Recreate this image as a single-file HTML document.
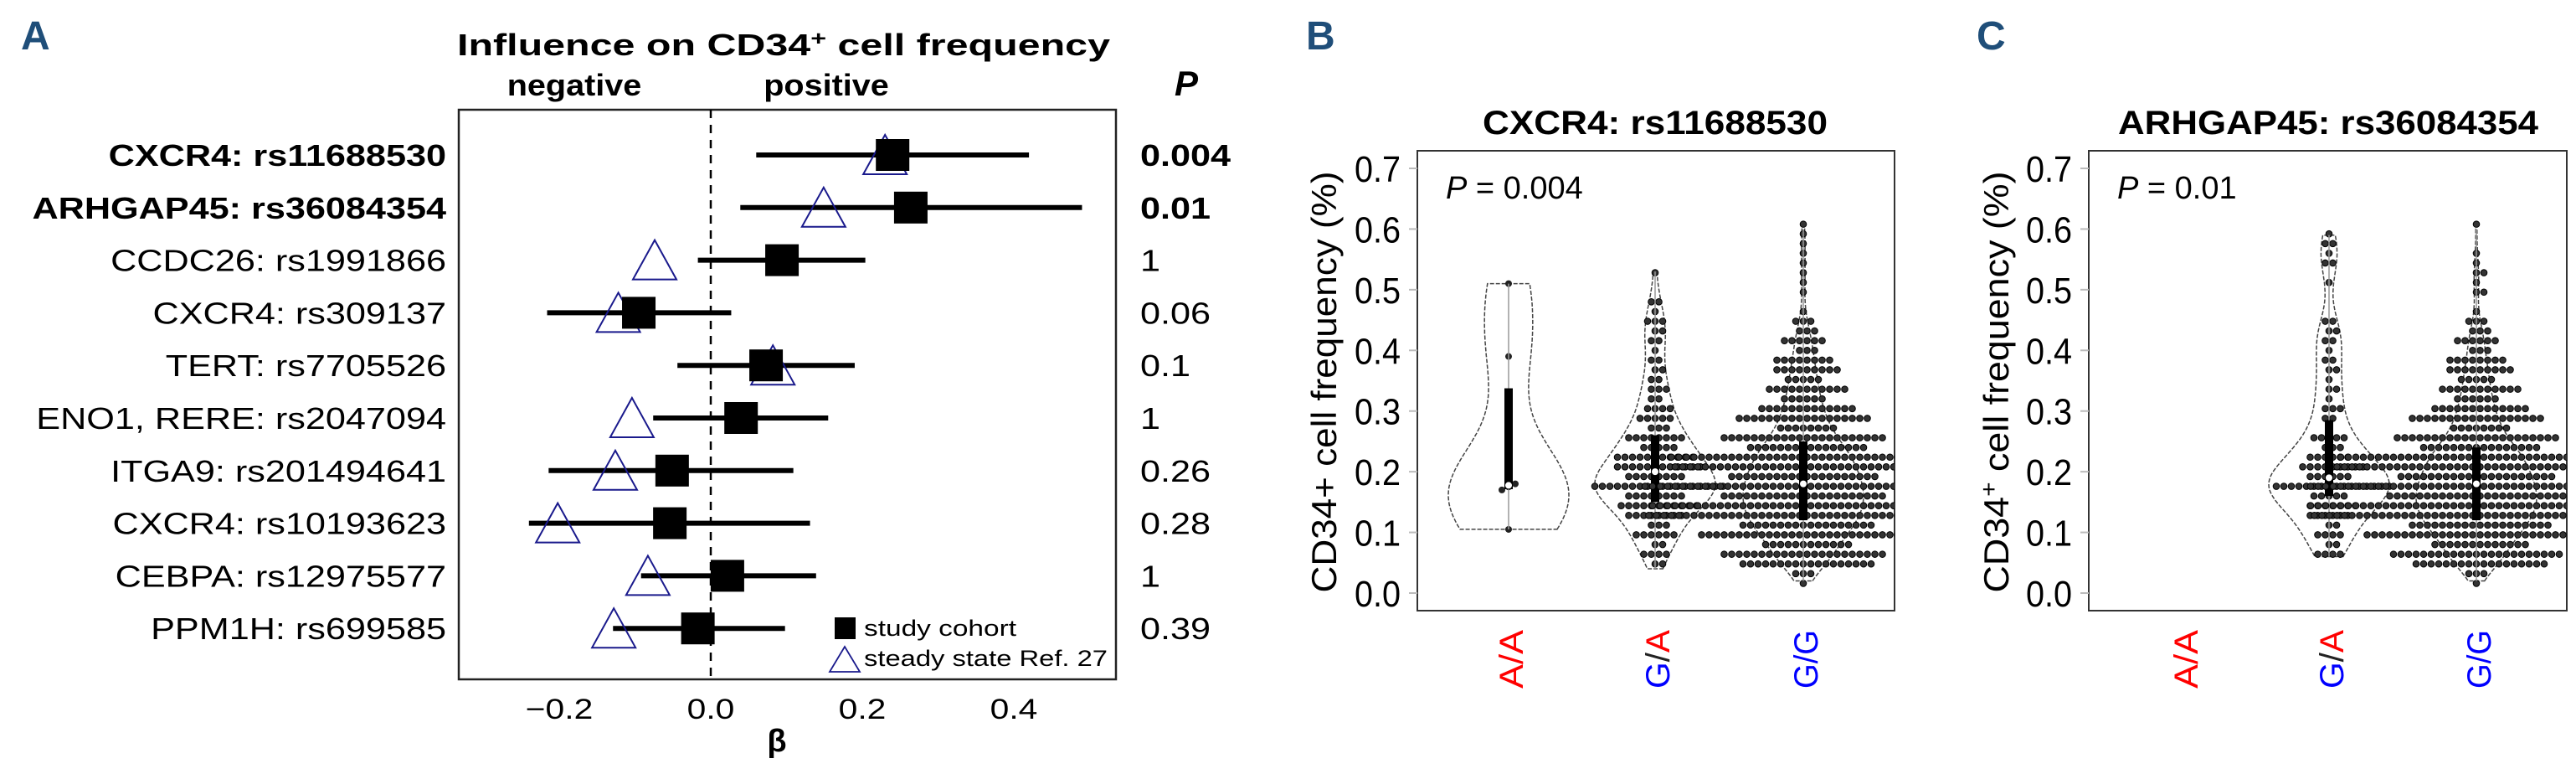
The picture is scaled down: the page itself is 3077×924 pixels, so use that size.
<!DOCTYPE html>
<html><head><meta charset="utf-8"><title>CD34+ figure</title>
<style>
html,body{margin:0;padding:0;background:#fff;}
svg{display:block;font-family:"Liberation Sans",Arial,sans-serif;}
</style></head>
<body>
<svg id="fig" xmlns="http://www.w3.org/2000/svg" width="3077" height="924" viewBox="0 0 3077 924">
<rect width="3077" height="924" fill="#fff"/>
<defs>
<clipPath id="clipB"><rect x="1693" y="180" width="570" height="549"/></clipPath>
<clipPath id="clipC"><rect x="2495" y="180" width="571" height="549"/></clipPath>
</defs>
<g id="panelA"></g>
<g id="panelB"></g>
<g id="panelC"></g>
</svg>
<script>
// ---------- Panel A data ----------
const snpLabels = ["CXCR4: rs11688530","ARHGAP45: rs36084354","CCDC26: rs1991866","CXCR4: rs309137","TERT: rs7705526","ENO1, RERE: rs2047094","ITGA9: rs201494641","CXCR4: rs10193623","CEBPA: rs12975577","PPM1H: rs699585"];
const betaCohort = [0.240,0.264,0.094,-0.095,0.073,0.040,-0.051,-0.054,0.022,-0.017];
const ciLow = [0.060,0.039,-0.017,-0.216,-0.044,-0.076,-0.214,-0.240,-0.092,-0.129];
const ciHigh = [0.420,0.490,0.204,0.027,0.190,0.155,0.109,0.131,0.139,0.098];
const betaRef = [0.230,0.149,-0.074,-0.122,0.082,-0.104,-0.126,-0.202,-0.083,-0.128];
const pLabels = ["0.004","0.01","1","0.06","0.1","1","0.26","0.28","1","0.39"];
const xTicksA = [-0.2,0.0,0.2,0.4];
const xTickLabelsA = ["\u22120.2","0.0","0.2","0.4"];

// ---------- Panels B/C data ----------
const yTicksBC = [0,0.1,0.2,0.3,0.4,0.5,0.6,0.7];
const genotypes = ["A/A","G/A","G/G"];
const bAAValues = [0.105,0.17,0.175,0.18,0.39,0.51];
const bGAStart = 0.04;
const bGACounts = [1,1,2,2,2,3,3,3,4,4,5,6,8,8,10,8,6,6,6,5,5,4,4,3,3,2,2,2,2,2,1,2,1,1,1,1,1,1,1,2,2,1,0,1,2,0,0,0,0,1];
const bGGStart = 0.02;
const bGGCounts = [1,3,8,10,10,12,12,12,16,18,22,20,20,22,22,22,22,20,18,18,18,18,16,12,10,8,10,8,7,6,6,6,5,5,5,4,4,4,3,3,3,3,2,1,0,1,0,0,1,1,0,1,1,0,1,0,1,1,1];
const cGAStart = 0.06;
const cGACounts = [2,2,2,2,2,2,3,3,3,4,5,8,8,6,5,4,3,3,3,3,2,1,1,1,1,2,1,1,1,1,1,1,1,1,1,1,1,2,2,0,0,0,0,0,0,1,0,0,1,1,1,1,1,1];
const cGGStart = 0.02;
const cGGCounts = [1,3,8,10,11,12,13,13,17,19,22,22,22,24,24,24,22,21,20,19,19,18,16,12,10,8,10,8,7,6,6,6,5,5,5,4,4,4,3,3,3,3,2,1,0,1,0,1,1,1,1,1,1,0,1,0,0,0,1];

const NS = "http://www.w3.org/2000/svg";
function mk(tag, attrs, parent){
  const e = document.createElementNS(NS, tag);
  for (const k in attrs) e.setAttribute(k, attrs[k]);
  parent.appendChild(e);
  return e;
}
function txt(parent, x, y, str, size, opts){
  opts = opts || {};
  const sx = opts.sx || 1;
  const t = mk("text", {transform:"translate("+x+","+y+") scale("+sx+",1)", "font-size":size,
    "text-anchor":opts.anchor||"start", fill:opts.fill||"#000", "font-weight":opts.bold?"bold":"normal",
    "font-style":opts.italic?"italic":"normal"}, parent);
  if (opts.len){ t.setAttribute("textLength", opts.len); t.setAttribute("lengthAdjust","spacingAndGlyphs"); }
  t.textContent = str;
  return t;
}

// ================= Panel A =================
const A = document.getElementById("panelA");
const xA = v => 849 + v*905;
const rowY = i => 185 + i*62.8;
const boxA = {l:548, r:1333, t:131, b:811};

let lt = txt(A, 25, 59, "A", 48, {bold:true, fill:"#1f4e79"});



let tt = mk("text",{x:546,y:66,"font-size":36,"font-weight":"bold",textLength:780,lengthAdjust:"spacingAndGlyphs"},A);
tt.innerHTML = 'Influence on CD34<tspan dy="-12" font-size="24">+</tspan><tspan dy="12">  cell frequency</tspan>';


let ng = txt(A, 686, 114, "negative", 36, {bold:true, anchor:"middle", sx:1.1});


let ps = txt(A, 987, 114, "positive", 36, {bold:true, anchor:"middle", sx:1.1});


let ph = txt(A, 1417, 114, "P", 42, {bold:true, italic:true, anchor:"middle"});



let frA = mk("rect",{x:boxA.l,y:boxA.t,width:boxA.r-boxA.l,height:boxA.b-boxA.t,fill:"none",stroke:"#222","stroke-width":2.5},A);


let zl = mk("line",{x1:xA(0),x2:xA(0),y1:boxA.t,y2:boxA.b,stroke:"#000","stroke-width":2.5,"stroke-dasharray":"10,8"},A);



xTicksA.forEach((v,i)=>{
  const t = txt(A, xA(v), 858, xTickLabelsA[i], 34, {anchor:"middle", sx:1.2});
  
  
});
let beta = txt(A, 928, 897, "\u03b2", 38, {anchor:"middle", bold:true});



snpLabels.forEach((lab,i)=>{
  const y = rowY(i);
  const t = txt(A, 533, y+13, lab, 36, {anchor:"end", bold:i<2, sx:1.2});
  
  
  const ci = mk("line",{x1:xA(ciLow[i]),x2:xA(ciHigh[i]),y1:y,y2:y,stroke:"#000","stroke-width":6},A);
  
  
  const tx = xA(betaRef[i]);
  const tri = mk("polygon",{points:(tx-26)+","+(y+23)+" "+(tx+26)+","+(y+23)+" "+tx+","+(y-24),fill:"none",stroke:"#1a1a8c","stroke-width":2},A);
  
  
  const sq = mk("rect",{x:xA(betaCohort[i])-20,y:y-19,width:40,height:38,fill:"#000"},A);
  
  
  const p = txt(A, 1362, y+13, pLabels[i], 36, {bold:i<2, sx:1.2});
  
  
});

let lg = mk("g",{},A);


let ls = mk("rect",{x:997,y:737,width:25,height:26,fill:"#000"},lg);


let lt1 = txt(lg, 1032, 759, "study cohort", 27, {len:182});


let ltr = mk("polygon",{points:"991,802 1027,802 1009,772",fill:"none",stroke:"#1a1a8c","stroke-width":1.8},lg);


let lt2 = txt(lg, 1032, 795, "steady state Ref. 27", 27, {len:291});



// ================= Panels B/C =================
const yBC = v => 708 - v*724.3;
function expand(start, counts){
  const out=[]; counts.forEach((c,i)=>{ for(let k=0;k<c;k++) out.push(+(start+i*0.01).toFixed(3)); }); return out;
}
function quant(s, q){ const h=(s.length-1)*q, lo=Math.floor(h), hi=Math.ceil(h); return s[lo]+(s[hi]-s[lo])*(h-lo); }
function drawGroup(g, cx, vals, swarm, clip){
  if (!vals.length) return;
  const s = vals.slice().sort((a,b)=>a-b);
  const n = s.length, mean = s.reduce((a,b)=>a+b,0)/n;
  const sd = Math.sqrt(s.reduce((a,b)=>a+(b-mean)**2,0)/(n-1));
  const iqr = quant(s,0.75)-quant(s,0.25);
  const bw = 0.9*Math.min(sd, iqr/1.34 || sd)*Math.pow(n,-0.2);
  const mn=s[0], mx=s[n-1], steps=120, dens=[];
  for(let k=0;k<=steps;k++){ const v=mn+(mx-mn)*k/steps; let d=0; s.forEach(x=>{d+=Math.exp(-0.5*((v-x)/bw)**2);}); dens.push([v,d]); }
  const dmax = Math.max(...dens.map(d=>d[1]));
  let path = "";
  dens.forEach((d,k)=>{ path += (k?"L":"M")+(cx+72*d[1]/dmax).toFixed(1)+","+yBC(d[0]).toFixed(1); });
  for(let k=dens.length-1;k>=0;k--){ path += "L"+(cx-72*dens[k][1]/dmax).toFixed(1)+","+yBC(dens[k][0]).toFixed(1); }
  const vio = mk("path",{d:path+"Z",fill:"none",stroke:"#444","stroke-width":1.5,"stroke-dasharray":"5,2"},g);
  
  
  const dg = mk("g",{"clip-path":"url(#"+clip+")"},g);
  
  
  if (swarm){
    const rowH = 0.016;
    const rows = {};
    s.forEach(v=>{ const r=Math.round(v/rowH); (rows[r]=rows[r]||[]).push(v); });
    Object.keys(rows).forEach(key=>{
      const list=rows[key], c=list.length, shift=(+key%2)?4.5:0;
      list.forEach((v,k)=>{
        const dot = mk("circle",{cx:cx+(k-(c-1)/2)*9+(c>1?shift:0),cy:yBC(+key*rowH),r:3.8,fill:"#333",stroke:"#000","stroke-width":1},dg);
        
        
      });
    });
  } else {
    s.forEach((v,k)=>{
      const dot = mk("circle",{cx:cx+(k>=1&&k<=3?(k-2)*8:0),cy:yBC(v),r:4,fill:"#222"},dg);
      
      
    });
  }
  const wh = mk("line",{x1:cx,x2:cx,y1:yBC(mn),y2:yBC(mx),stroke:"#999","stroke-width":1.5},g);
  
  
  const q1=quant(s,0.25), q3=quant(s,0.75), med=quant(s,0.5);
  const bx = mk("rect",{x:cx-5,y:yBC(q3),width:10,height:yBC(q1)-yBC(q3),fill:"#000"},g);
  
  
  const md = mk("circle",{cx:cx,cy:yBC(med),r:4.5,fill:"#fff",stroke:"#000","stroke-width":1},g);
  
  
}
function panel(g, cfg){
  let L = txt(g, cfg.letterX, 59, cfg.letter, 48, {bold:true, fill:"#1f4e79"});
  
  
  let T = txt(g, cfg.titleX, 160, cfg.title, 40, {bold:true, anchor:"middle", len:cfg.titleLen});
  
  
  let fr = mk("path",{d:"M"+cfg.l+",180H"+cfg.r+"V729H"+cfg.l+"Z",fill:"none",stroke:"#333","stroke-width":2},g);
  
  
  yTicksBC.forEach(v=>{
    const tk = mk("line",{x1:cfg.l-10,x2:cfg.l,y1:yBC(v),y2:yBC(v),stroke:"#bbb","stroke-width":2},g);
    
    
    const tl = txt(g, cfg.l-20, yBC(v)+16, v.toFixed(1), 44, {anchor:"end", sx:0.9});
    
    
  });
  const yl = mk("text",{transform:"translate("+cfg.ylX+",456) rotate(-90)","font-size":42,"text-anchor":"middle",textLength:503,lengthAdjust:"spacingAndGlyphs"},g);
  yl.innerHTML = cfg.ylHTML;
  
  
  const pt = mk("text",{x:cfg.l+34,y:237,"font-size":38},g);
  pt.innerHTML = '<tspan font-style="italic">P</tspan> = '+cfg.p;
  
  
  genotypes.forEach((gt,i)=>{
    const cx = cfg.cats[i];
    const xl = mk("text",{transform:"translate("+(cx+17)+",787) rotate(-90)","font-size":40,"text-anchor":"middle",textLength:70,lengthAdjust:"spacingAndGlyphs"},g);
    if (gt==="A/A") xl.innerHTML='<tspan fill="#ff0000">A/A</tspan>';
    else if (gt==="G/A") xl.innerHTML='<tspan fill="#0000ff">G</tspan><tspan fill="#222">/</tspan><tspan fill="#ff0000">A</tspan>';
    else xl.innerHTML='<tspan fill="#0000ff">G/G</tspan>';
    
    
  });
  cfg.groups.forEach((vals,i)=>drawGroup(g, cfg.cats[i], vals, i>0, cfg.clip));
}
panel(document.getElementById("panelB"), {
  letter:"B", letterX:1560, title:"CXCR4: rs11688530", titleX:1977, titleLen:412,
  l:1693, r:2263, ylX:1596, ylHTML:"CD34+ cell frequency (%)", p:"0.004",
  cats:[1802,1977,2154], clip:"clipB",
  groups:[bAAValues, expand(bGAStart,bGACounts), expand(bGGStart,bGGCounts)]
});
panel(document.getElementById("panelC"), {
  letter:"C", letterX:2361, title:"ARHGAP45: rs36084354", titleX:2781, titleLen:502,
  l:2495, r:3066, ylX:2399, ylHTML:'CD34<tspan dy="-14" font-size="28">+</tspan><tspan dy="14"> cell frequency (%)</tspan>', p:"0.01",
  cats:[2608,2782,2958], clip:"clipC",
  groups:[[], expand(cGAStart,cGACounts), expand(cGGStart,cGGCounts)]
});
</script>
</body></html>
